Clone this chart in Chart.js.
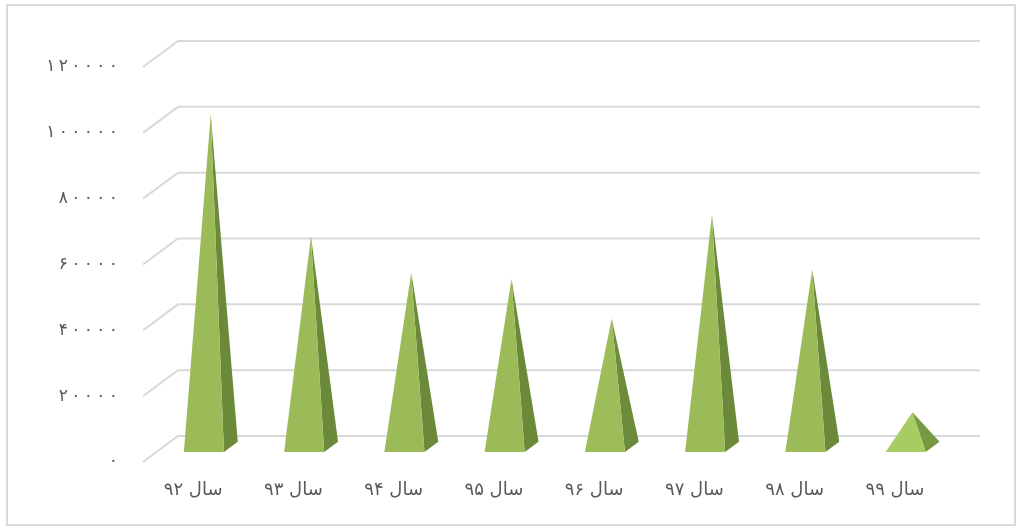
<!DOCTYPE html>
<html>
<head>
<meta charset="utf-8">
<script src="https://cdn.jsdelivr.net/npm/chart.js@4.4.1/dist/chart.umd.min.js"></script>
<style>
  html, body { margin: 0; padding: 0; background: #ffffff; }
  #wrap { position: absolute; left: 0; top: 0; width: 1022px; height: 531px; }
</style>
</head>
<body>
<div id="wrap"><canvas id="c" width="1022" height="531"></canvas></div>
<script>
// ---- data ----
const categories = ['سال ۹۲', 'سال ۹۳', 'سال ۹۴', 'سال ۹۵', 'سال ۹۶', 'سال ۹۷', 'سال ۹۸', 'سال ۹۹'];
const values = [101000, 64000, 53000, 51000, 39000, 70500, 54000, 10500];
const yMin = 0;
const yMax = 120000;
const yStep = 20000;

// ---- helpers ----
const faDigits = ['۰','۱','۲','۳','۴','۵','۶','۷','۸','۹'];
const DIGIT_GAP = '\u2009';
function toPersian(n) {
  return String(n).split('').map(d => faDigits[+d]).join(DIGIT_GAP);
}

// perspective settings (style)
const DEPTH_DX = 35, DEPTH_DY = -26;   // full depth of the 3D box
const PYR_FRONT = 0.385, PYR_BACK = 0.78, PYR_MID = 0.58;
const PYR_WIDTH = 0.4, PYR_SHIFT = -2.7;

function mix(c1, c2, t) {
  const a = c1.match(/\w\w/g).map(h => parseInt(h, 16));
  const b = c2.match(/\w\w/g).map(h => parseInt(h, 16));
  return 'rgb(' + a.map((v, i) => Math.round(v + (b[i] - v) * t)).join(',') + ')';
}

const perspectivePlugin = {
  id: 'perspective3d',
  beforeDraw(chart) {
    const ctx = chart.ctx;
    ctx.save();
    ctx.fillStyle = '#ffffff';
    ctx.fillRect(0, 0, chart.width, chart.height);
    ctx.strokeStyle = '#d9d9d9';
    ctx.lineWidth = 2;
    ctx.strokeRect(7, 5, 1008, 520);
    ctx.restore();
  },
  beforeDatasetsDraw(chart) {
    const ctx = chart.ctx;
    const ys = chart.scales.y;
    const area = chart.chartArea;
    ctx.save();
    ctx.strokeStyle = '#d9d9d9';
    ctx.lineWidth = 2;
    ys.ticks.forEach(t => {
      const y = ys.getPixelForValue(t.value);
      ctx.beginPath();
      ctx.moveTo(area.left, y);
      ctx.lineTo(area.left + DEPTH_DX, y + DEPTH_DY);
      ctx.lineTo(area.right + DEPTH_DX, y + DEPTH_DY);
      ctx.stroke();
    });
    ctx.restore();
  },
  afterDatasetsDraw(chart) {
    const ctx = chart.ctx;
    const xs = chart.scales.x;
    const ys = chart.scales.y;
    const meta = chart.getDatasetMeta(0);
    const catW = (xs.right - xs.left) / chart.data.labels.length;
    const w = catW * PYR_WIDTH;
    const y0 = ys.getPixelForValue(0);
    ctx.save();
    meta.data.forEach((bar, i) => {
      const xc = bar.x + PYR_SHIFT;
      const yv = bar.y;
      const fl = [xc - w / 2 + PYR_FRONT * DEPTH_DX, y0 + PYR_FRONT * DEPTH_DY];
      const fr = [xc + w / 2 + PYR_FRONT * DEPTH_DX, y0 + PYR_FRONT * DEPTH_DY];
      const br = [xc + w / 2 + PYR_BACK * DEPTH_DX, y0 + PYR_BACK * DEPTH_DY];
      const ap = [xc + PYR_MID * DEPTH_DX, yv + PYR_MID * DEPTH_DY];
      const h = fl[1] - ap[1];
      const flat = Math.max(0, Math.min(1, (w / 2) / (h + w / 2)));
      const t = Math.max(0, (flat - 0.1) / 0.4);
      const frontCol = mix('9bbb59', 'b0d766', Math.min(1, t));
      const sideCol = mix('6a8a3a', '80a447', Math.min(1, t));
      ctx.fillStyle = sideCol;
      ctx.beginPath();
      ctx.moveTo(fr[0], fr[1]);
      ctx.lineTo(br[0], br[1]);
      ctx.lineTo(ap[0], ap[1]);
      ctx.closePath();
      ctx.fill();
      ctx.fillStyle = frontCol;
      ctx.beginPath();
      ctx.moveTo(fl[0], fl[1]);
      ctx.lineTo(fr[0], fr[1]);
      ctx.lineTo(ap[0], ap[1]);
      ctx.closePath();
      ctx.fill();
    });
    ctx.restore();
  }
};

new Chart(document.getElementById('c'), {
  type: 'bar',
  data: {
    labels: categories,
    datasets: [{
      data: values,
      backgroundColor: 'rgba(0,0,0,0)',
      borderWidth: 0
    }]
  },
  options: {
    responsive: false,
    animation: false,
    devicePixelRatio: 1,
    layout: { padding: { top: 67, right: 77, left: 0, bottom: 0 } },
    plugins: { legend: { display: false }, tooltip: { enabled: false } },
    scales: {
      x: {
        grid: { display: false, drawTicks: false },
        border: { display: false },
        ticks: {
          color: '#595959',
          font: { family: 'DejaVu Sans', size: 18 },
          padding: 18,
          maxRotation: 0
        },
        afterFit(scale) { scale.height = 69; }
      },
      y: {
        min: yMin,
        max: yMax,
        grid: { display: false, drawTicks: false },
        border: { display: false },
        ticks: {
          stepSize: yStep,
          color: '#595959',
          font: { family: 'DejaVu Sans', size: 17 },
          padding: 25,
          callback: v => toPersian(v)
        },
        afterFit(scale) { scale.width = 143; }
      }
    }
  },
  plugins: [perspectivePlugin]
});
</script>
</body>
</html>
